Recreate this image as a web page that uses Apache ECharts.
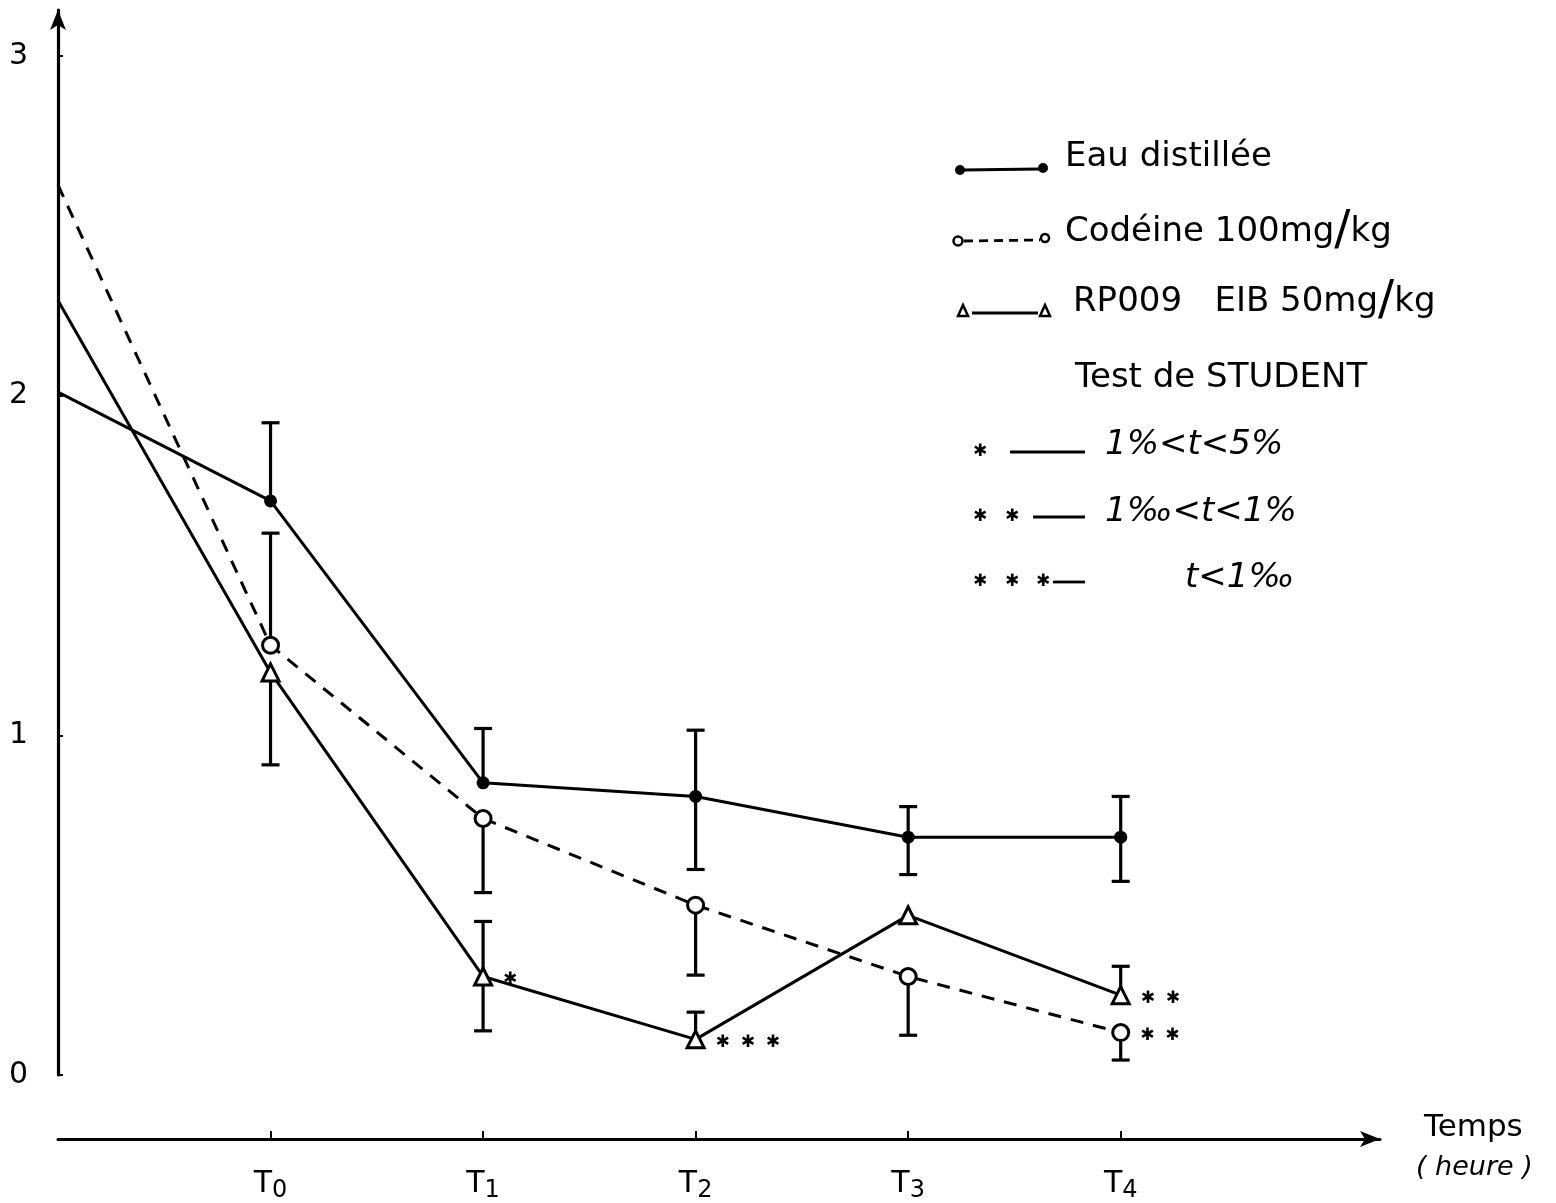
<!DOCTYPE html>
<html><head><meta charset="utf-8">
<script src="https://cdn.jsdelivr.net/npm/echarts@6/dist/echarts.min.js"></script>
<style>html,body{margin:0;padding:0;background:#fff}#c{width:1556px;height:1203px}</style>
</head><body><div id="c"></div>
<script>
// ---- data ----
const xPos = [0, 1, 2, 3, 4, 5];
const xTickLabels = ['', 'T0', 'T1', 'T2', 'T3', 'T4'];
const yTickValues = [0, 1, 2, 3];

const eauValues = [2.01, 1.69, 0.86, 0.82, 0.70, 0.70];
const eauLow    = [null, null, null, 0.605, 0.59, 0.57];
const eauHigh   = [null, 1.92, 1.02, 1.015, 0.79, 0.82];

const codValues = [2.62, 1.265, 0.755, 0.50, 0.29, 0.125];
const codLow    = [null, null, 0.537, 0.294, 0.117, 0.044];
const codHigh   = [null, 1.595, null, null, null, null];

const rpValues  = [2.28, 1.185, 0.29, 0.105, 0.47, 0.235];
const rpLow     = [null, 0.913, 0.13, null, null, null];
const rpHigh    = [null, null, 0.452, 0.185, null, 0.32];

const rpStars   = ['', '', '✱', '✱  ✱  ✱', '', '✱  ✱'];
const codStars  = ['', '', '', '', '', '✱  ✱'];

const seriesNames = ['Eau distillée', 'Codéine 100mg/kg', 'RP009   EIB 50mg/kg'];
const testTitle = 'Test de STUDENT';
const sigLabels = ['1%<t<5%', '1‰<t<1%', 't<1‰'];

// ---- build ----
const FONT = 'DejaVu Sans';
function lineData(vals) {
  return xPos.map((x, i) => i === 0 ? { value: [x, vals[i]], symbol: 'none' } : [x, vals[i]]);
}
function errData(vals, lo, hi) {
  const out = [];
  xPos.forEach((x, i) => {
    if (lo[i] == null && hi[i] == null) return;
    out.push([x, vals[i], lo[i] == null ? vals[i] : lo[i], hi[i] == null ? vals[i] : hi[i],
      lo[i] != null ? 1 : 0, hi[i] != null ? 1 : 0]);
  });
  return out;
}
function errRender(params, api) {
  const x = api.value(0);
  const lo = api.coord([x, api.value(2)]);
  const hi = api.coord([x, api.value(3)]);
  const st = { stroke: '#000', lineWidth: 3.2 };
  const w = 9;
  const ch = [{ type: 'line', shape: { x1: lo[0], y1: lo[1], x2: hi[0], y2: hi[1] }, style: st }];
  if (api.value(4)) ch.push({ type: 'line', shape: { x1: lo[0] - w, y1: lo[1], x2: lo[0] + w, y2: lo[1] }, style: st });
  if (api.value(5)) ch.push({ type: 'line', shape: { x1: hi[0] - w, y1: hi[1], x2: hi[0] + w, y2: hi[1] }, style: st });
  return { type: 'group', children: ch };
}
function errSeries(vals, lo, hi) {
  return { type: 'custom', renderItem: errRender, data: errData(vals, lo, hi),
    encode: { x: 0, y: [2, 3] }, z: 1, silent: true };
}
function starLabel(stars) {
  return { show: true, position: 'right', distance: 10, offset: [0, 3],
    formatter: p => stars[p.dataIndex], fontSize: 17, color: '#000', fontFamily: FONT };
}

const star = (x, y) => ({ type: 'text', x: x, y: y, style: { text: '✱', fontSize: 17, fontFamily: FONT, fill: '#000', align: 'center', verticalAlign: 'middle' } });
const richStyle = {
  n: { fontSize: 34, fontFamily: FONT, fill: '#000' },
  s: { fontSize: 48, fontFamily: FONT, fill: '#000' }
};
function withSlash(t) { return t.split('/').map(p => '{n|' + p + '}').join('{s|/}'); }
const txt = (x, y, t, italic) => ({ type: 'text', x: x, y: y, style: { text: t, fontSize: 34, fontFamily: FONT, fontStyle: italic ? 'italic' : 'normal', fill: '#000', align: 'left', verticalAlign: 'middle' } });
const rtxt = (x, y, t) => ({ type: 'text', x: x, y: y, style: { text: withSlash(t), rich: richStyle, align: 'left', verticalAlign: 'middle' } });
const seg = (x1, y1, x2, y2, dash) => ({ type: 'line', shape: { x1, y1, x2, y2 }, style: { stroke: '#000', lineWidth: 2.8, lineDash: dash || null } });

const option = {
  backgroundColor: '#fff',
  animation: false,
  grid: { left: 58, right: 176, top: 10, bottom: 125, containLabel: false },
  xAxis: {
    type: 'value', min: 0, max: 6.22, interval: 1, offset: 64,
    axisLine: { onZero: false, lineStyle: { color: '#000', width: 3 }, symbol: ['none', 'arrow'], symbolSize: [12, 20] },
    axisTick: { show: true, inside: true, length: 8, customValues: [1, 2, 3, 4, 5], lineStyle: { color: '#000', width: 2 } },
    splitLine: { show: false },
    axisLabel: {
      customValues: [1, 2, 3, 4, 5], margin: 26, color: '#000',
      formatter: v => { const s = xTickLabels[Math.round(v)]; return s ? '{t|T}{s|' + s.slice(1) + '}' : ''; },
      rich: { t: { fontSize: 30, fontFamily: FONT, color: '#000' },
              s: { fontSize: 24, fontFamily: FONT, color: '#000', padding: [14, 0, 0, 0] } }
    },
    name: '{a|Temps}\n{b|( heure )}', nameLocation: 'end', nameGap: 36,
    nameTextStyle: { align: 'left', verticalAlign: 'middle', padding: [18, 0, 0, 0], rich: {
      a: { fontSize: 31, fontFamily: FONT, color: '#000', lineHeight: 40, padding: [0, 0, 0, 8] },
      b: { fontSize: 27, fontFamily: FONT, fontStyle: 'italic', color: '#000', lineHeight: 40 } } }
  },
  yAxis: {
    type: 'value', min: 0, max: 3.135, interval: 1,
    axisLine: { show: true, lineStyle: { color: '#000', width: 3.2 }, symbol: ['none', 'arrow'], symbolSize: [12, 20] },
    axisTick: { show: true, inside: true, length: 5, customValues: yTickValues, lineStyle: { color: '#000', width: 2 } },
    splitLine: { show: false },
    axisLabel: { customValues: yTickValues, margin: 30, fontSize: 30, fontFamily: FONT, color: '#000' }
  },
  series: [
    errSeries(eauValues, eauLow, eauHigh),
    { type: 'line', name: seriesNames[0], data: lineData(eauValues), z: 3,
      symbol: 'circle', symbolSize: 13, itemStyle: { color: '#000' },
      lineStyle: { color: '#000', width: 3 } },
    errSeries(codValues, codLow, codHigh),
    { type: 'line', name: seriesNames[1], data: lineData(codValues), z: 3,
      symbol: 'circle', symbolSize: 16, itemStyle: { color: '#fff', borderColor: '#000', borderWidth: 3 },
      lineStyle: { color: '#000', width: 3, type: [13, 10] }, label: starLabel(codStars) },
    errSeries(rpValues, rpLow, rpHigh),
    { type: 'line', name: seriesNames[2], data: lineData(rpValues), z: 3,
      symbol: 'triangle', symbolSize: 17, itemStyle: { color: '#fff', borderColor: '#000', borderWidth: 3 },
      lineStyle: { color: '#000', width: 3 }, label: starLabel(rpStars) }
  ],
  graphic: [
    // legend row 1
    seg(962, 170, 1040, 169),
    { type: 'circle', shape: { cx: 960, cy: 170, r: 5 }, style: { fill: '#000' } },
    { type: 'circle', shape: { cx: 1043, cy: 168, r: 5 }, style: { fill: '#000' } },
    txt(1065, 157, seriesNames[0]),
    // legend row 2
    seg(964, 241, 1040, 240, [9, 6]),
    { type: 'circle', shape: { cx: 958, cy: 241, r: 4.5 }, style: { fill: '#fff', stroke: '#000', lineWidth: 2.5 } },
    { type: 'circle', shape: { cx: 1045, cy: 238, r: 4 }, style: { fill: '#fff', stroke: '#000', lineWidth: 2.5 } },
    rtxt(1065, 232, seriesNames[1]),
    // legend row 3
    seg(972, 313, 1038, 313),
    { type: 'polygon', shape: { points: [[958, 316], [963, 305], [968, 316]] }, style: { fill: '#fff', stroke: '#000', lineWidth: 2.5 } },
    { type: 'polygon', shape: { points: [[1040, 316], [1045, 305], [1050, 316]] }, style: { fill: '#fff', stroke: '#000', lineWidth: 2.5 } },
    rtxt(1073, 302, seriesNames[2]),
    txt(1075, 378, testTitle),
    // significance rows
    star(980, 452), seg(1010, 452, 1085, 452), txt(1105, 445, sigLabels[0], true),
    star(980, 517), star(1012, 517), seg(1033, 517, 1085, 517), txt(1105, 512, sigLabels[1], true),
    star(980, 582), star(1012, 582), star(1043, 582), seg(1053, 582, 1085, 582), txt(1185, 578, sigLabels[2], true)
  ]
};
const chart = echarts.init(document.getElementById('c'), null, { renderer: 'canvas' });
chart.setOption(option);
</script></body></html>
